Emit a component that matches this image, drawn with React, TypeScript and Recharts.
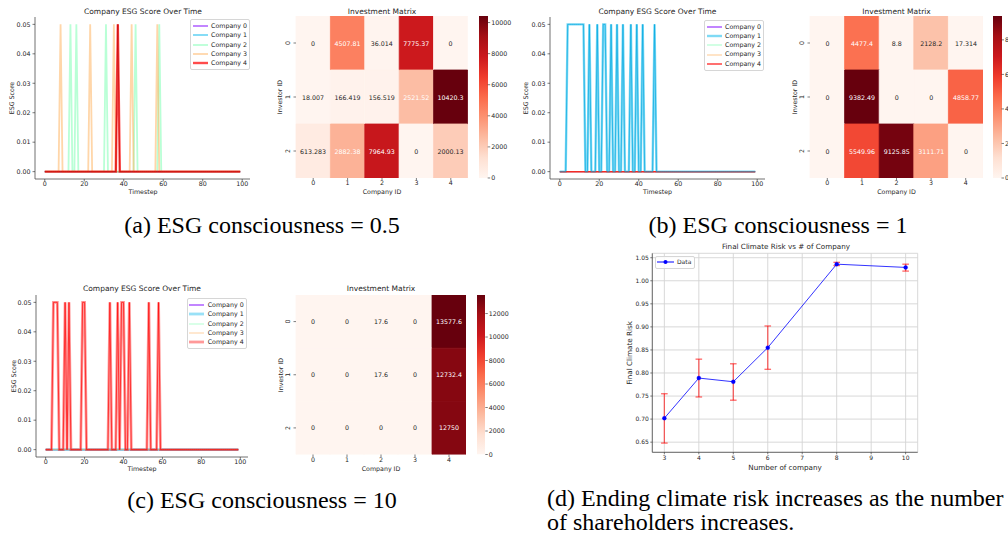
import React from 'react';
import {
  LineChart, Line,
  BarChart, Bar, Cell, LabelList,
  XAxis, YAxis, CartesianGrid, Legend, ErrorBar,
} from 'recharts';

const SANS = '"DejaVu Sans", Verdana, sans-serif';
const SERIF = '"Liberation Serif", "Times New Roman", serif';
const INK = '#262626';
const FRAME = '#4d4d4d';
const SMALL = 6.3;

// ---- panels (a)-(c): ESG score over time, each company is either 0 or at the peak
const TIMESTEPS = Array.from({ length: 100 }, (_, i) => i);
const ESG_PEAK = 0.05;
const COMPANY_NAMES = ['Company 0', 'Company 1', 'Company 2', 'Company 3', 'Company 4'];
const COMPANY_COLORS = ['#8000ff', '#00b5ec', '#80ffb4', '#ffb462', '#ff0000'];
const ESG_X_TICKS = [0, 20, 40, 60, 80, 100];
const ESG_Y_TICKS = [0, 0.01, 0.02, 0.03, 0.04, 0.05];

// timesteps where a company sits at the peak score
const A_COMPANY2_PEAKS = [13, 16, 31, 46, 58];
const A_COMPANY3_PEAKS = [8, 23, 35, 44, 57];
const A_COMPANY4_PEAKS = [37];
const B_COMPANY1_PEAKS = [4, 5, 6, 7, 8, 9, 10, 11, 12, 15, 19, 22, 23, 26, 29, 32, 36, 39, 42, 48];
const C_COMPANY4_PEAKS = [4, 5, 6, 10, 12, 19, 20, 33, 37, 39, 40, 43, 53, 58];

// ---- investment matrices (rows = investors, cols = companies)
const INVESTOR_IDS = ['0', '1', '2'];
const COMPANY_IDS = ['0', '1', '2', '3', '4'];
const MATRIX_A = [
  [0, 4507.81, 36.014, 7775.37, 0],
  [18.007, 166.419, 156.519, 2521.52, 10420.3],
  [613.283, 2882.38, 7964.93, 0, 2000.13],
];
const MATRIX_B = [
  [0, 4477.4, 8.8, 2128.2, 17.314],
  [0, 9382.49, 0, 0, 4858.77],
  [0, 5549.96, 9125.85, 3111.71, 0],
];
const MATRIX_C = [
  [0, 0, 17.6, 0, 13577.6],
  [0, 0, 17.6, 0, 12732.4],
  [0, 0, 0, 0, 12750],
];
const CBAR_TICKS_A = [0, 2000, 4000, 6000, 8000, 10000];
const CBAR_TICKS_B = [0, 2000, 4000, 6000, 8000];
const CBAR_TICKS_C = [0, 2000, 4000, 6000, 8000, 10000, 12000];

// ---- panel (d): final climate risk vs number of companies
const RISK_N = [3, 4, 5, 6, 8, 10];
const RISK_MEAN = [0.702, 0.789, 0.781, 0.855, 1.036, 1.029];
const RISK_LOW = [0.648, 0.748, 0.741, 0.808, 1.033, 1.021];
const RISK_HIGH = [0.755, 0.830, 0.820, 0.902, 1.040, 1.036];
const RISK_X_TICKS = [3, 4, 5, 6, 7, 8, 9, 10];
const RISK_Y_TICKS = [0.65, 0.7, 0.75, 0.8, 0.85, 0.9, 0.95, 1.0, 1.05];

// matplotlib "Reds"
const REDS = ['#fff5f0', '#fee0d2', '#fcbba1', '#fc9272', '#fb6a4a', '#ef3b2c', '#cb181d', '#a50f15', '#67000d'];
const hexRgb = (h: string) => [1, 3, 5].map((i) => parseInt(h.slice(i, i + 2), 16));
function reds(t: number) {
  const s = Math.min(Math.max(t, 0), 1) * (REDS.length - 1);
  const i = Math.min(Math.floor(s), REDS.length - 2);
  const f = s - i;
  const a = hexRgb(REDS[i]);
  const b = hexRgb(REDS[i + 1]);
  return `rgb(${a.map((v, k) => Math.round(v + (b[k] - v) * f)).join(',')})`;
}

const tickStyle = { fontSize: SMALL, fill: INK, fontFamily: SANS };

function Txt({ x, y, size = SMALL, rotate = 0, children }: any) {
  return (
    <div style={{
      position: 'absolute', left: x, top: y,
      transform: `translate(-50%, -50%) rotate(${rotate}deg)`,
      fontFamily: SANS, fontSize: size, color: INK,
      whiteSpace: 'nowrap', lineHeight: 1,
    }}>
      {children}
    </div>
  );
}

type LineStyle = { w: number; o: number; core?: string };

function EsgLegend({ styles }: { styles: LineStyle[] }) {
  return (
    <div style={{
      border: '0.8px solid #d6d6d6', borderRadius: 2, background: 'rgba(255,255,255,0.85)',
      padding: '1.5px 2.5px 1.5px 1.5px', fontFamily: SANS, fontSize: SMALL, color: INK,
    }}>
      {COMPANY_NAMES.map((name, i) => (
        <div key={name} style={{ display: 'flex', alignItems: 'center', height: 9.3 }}>
          <svg width={15} height={6} style={{ display: 'block' }}>
            <line x1={0} y1={3} x2={15} y2={3} stroke={COMPANY_COLORS[i]}
              strokeWidth={styles[i].w} strokeOpacity={styles[i].o} />
          </svg>
          <span style={{ marginLeft: 3.5, whiteSpace: 'nowrap', lineHeight: 1 }}>{name}</span>
        </div>
      ))}
    </div>
  );
}

function EsgChart({ left, top, plotW, peaks, styles, legendAt }: {
  left: number; top: number; plotW: number; peaks: number[][]; styles: LineStyle[]; legendAt: [number, number];
}) {
  const data = TIMESTEPS.map((t) => {
    const row: Record<string, number> = { t };
    peaks.forEach((p, i) => { row['c' + i] = p.includes(t) ? ESG_PEAK : 0; });
    return row;
  });
  const xDomain: [number, number] = [-4.95, 103.95];
  const yDomain: [number, number] = [-0.0025, 0.0525];
  const frame = { stroke: FRAME, strokeWidth: 0.8 };

  return (
    <div style={{ position: 'absolute', left, top }}>
      <LineChart width={35 + plotW + 2} height={200} data={data}
        margin={{ top: 17, right: 2, bottom: 0, left: 0 }}>
        <XAxis dataKey="t" type="number" domain={xDomain} ticks={ESG_X_TICKS} allowDataOverflow
          height={21} tick={tickStyle} tickSize={2.5} tickMargin={0.5}
          tickLine={{ stroke: INK, strokeWidth: 0.6 }} axisLine={frame} />
        <XAxis xAxisId="frame" orientation="top" dataKey="t" type="number" domain={xDomain}
          allowDataOverflow height={0} tick={false} tickLine={false} axisLine={frame} />
        <YAxis type="number" domain={yDomain} ticks={ESG_Y_TICKS} allowDataOverflow width={35}
          tick={tickStyle} tickFormatter={(v: number) => v.toFixed(2)} tickSize={2.5} tickMargin={2}
          tickLine={{ stroke: INK, strokeWidth: 0.6 }} axisLine={frame} />
        <YAxis yAxisId="frame" orientation="right" type="number" domain={yDomain} allowDataOverflow
          width={0} tick={false} tickLine={false} axisLine={frame} />
        {COMPANY_NAMES.map((name, i) => (
          <Line key={name} dataKey={'c' + i} name={name} type="linear"
            stroke={COMPANY_COLORS[i]} strokeWidth={styles[i].w} strokeOpacity={styles[i].o}
            dot={false} activeDot={false} isAnimationActive={false} />
        ))}
        {COMPANY_NAMES.map((name, i) => styles[i].core ? (
          <Line key={name + '-core'} dataKey={'c' + i} legendType="none" type="linear"
            stroke={styles[i].core} strokeWidth={0.8} strokeOpacity={0.85}
            dot={false} activeDot={false} isAnimationActive={false} />
        ) : null)}
        <Legend layout="vertical" align="center" verticalAlign="middle"
          wrapperStyle={{ left: legendAt[0], top: legendAt[1], width: 'auto' }}
          content={() => <EsgLegend styles={styles} />} />
      </LineChart>
    </div>
  );
}

function RotTick(props: any) {
  const { x, y, payload } = props;
  return (
    <g>
      <line x1={x + 3.5} y1={y} x2={x + 6} y2={y} stroke={INK} strokeWidth={0.6} />
      <text x={x} y={y} transform={`rotate(-90 ${x} ${y})`} textAnchor="middle"
        fontSize={SMALL} fontFamily={SANS} fill={INK}>
        {INVESTOR_IDS[Math.floor(payload.value)]}
      </text>
    </g>
  );
}

function Heatmap({ plotLeft, plotTop, plotW, plotH, matrix }: {
  plotLeft: number; plotTop: number; plotW: number; plotH: number; matrix: number[][];
}) {
  const vmax = Math.max(...matrix.flat());
  const data = COMPANY_IDS.map((id, c) => {
    const row: Record<string, any> = { company: id };
    INVESTOR_IDS.forEach((_, r) => { row['r' + r] = 1; row['v' + r] = matrix[r][c]; });
    return row;
  });
  const cellLabel = (p: any) => {
    const { x, y, width, height, value } = p;
    const light = Number(value) / vmax > 0.235;
    return (
      <text x={x + width / 2} y={y + height / 2} textAnchor="middle" dominantBaseline="central"
        fontSize={SMALL} fontFamily={SANS} fill={light ? '#ffffff' : INK}>
        {String(value)}
      </text>
    );
  };
  return (
    <div style={{ position: 'absolute', left: plotLeft - 26, top: plotTop - 16 }}>
      <BarChart width={26 + plotW} height={16 + plotH + 22} data={data}
        margin={{ top: 16, right: 0, bottom: 0, left: 0 }} barCategoryGap={0} barGap={0}>
        <XAxis dataKey="company" height={22} tick={tickStyle} tickSize={2.5} tickMargin={0.5}
          axisLine={false} tickLine={{ stroke: INK, strokeWidth: 0.6 }} />
        <YAxis type="number" domain={[0, INVESTOR_IDS.length]} reversed allowDataOverflow
          ticks={INVESTOR_IDS.map((_, i) => i + 0.5)} width={26} axisLine={false}
          tickSize={0} tickMargin={6} tickLine={false} tick={<RotTick />} />
        {INVESTOR_IDS.map((id, r) => (
          <Bar key={id} dataKey={'r' + r} stackId="m" isAnimationActive={false}>
            {data.map((row) => {
              const col = reds(row['v' + r] / vmax);
              return <Cell key={row.company} fill={col} stroke={col} strokeWidth={0.8} />;
            })}
            <LabelList dataKey={'v' + r} content={cellLabel} />
          </Bar>
        ))}
      </BarChart>
    </div>
  );
}

function Colorbar({ left, top, width, height, matrix, ticks, id }: {
  left: number; top: number; width: number; height: number; matrix: number[][]; ticks: number[]; id: string;
}) {
  const vmax = Math.max(...matrix.flat());
  return (
    <div style={{ position: 'absolute', left, top: top - 16 }}>
      <BarChart width={width + 34} height={16 + height + 22} data={[{ k: 'cb', v: vmax }]}
        margin={{ top: 16, right: 0, bottom: 22, left: 0 }} barCategoryGap={0}>
        <defs>
          <linearGradient id={id} x1="0" y1="0" x2="0" y2="1">
            {REDS.map((c, i) => (
              <stop key={c} offset={`${(i / (REDS.length - 1)) * 100}%`} stopColor={REDS[REDS.length - 1 - i]} />
            ))}
          </linearGradient>
        </defs>
        <XAxis dataKey="k" hide />
        <YAxis orientation="right" type="number" domain={[0, vmax]} ticks={ticks} allowDataOverflow
          width={34} tick={tickStyle} tickSize={2.5} tickMargin={1} axisLine={false}
          tickLine={{ stroke: INK, strokeWidth: 0.6 }} />
        <Bar dataKey="v" fill={`url(#${id})`} isAnimationActive={false} />
      </BarChart>
    </div>
  );
}

function RiskLegend() {
  return (
    <div style={{
      border: '0.8px solid #d6d6d6', borderRadius: 2, background: 'rgba(255,255,255,0.85)',
      padding: '1px 3px 1px 1px', display: 'flex', alignItems: 'center',
      fontFamily: SANS, fontSize: 6, color: INK, height: 8.5,
    }}>
      <svg width={17} height={6} style={{ display: 'block' }}>
        <line x1={0} y1={3} x2={17} y2={3} stroke="#0000ff" strokeWidth={1} />
        <circle cx={8.5} cy={3} r={2} fill="#0000ff" />
      </svg>
      <span style={{ marginLeft: 3, lineHeight: 1 }}>Data</span>
    </div>
  );
}

function RiskChart() {
  const data = RISK_N.map((n, i) => ({
    n, risk: RISK_MEAN[i], err: [RISK_MEAN[i] - RISK_LOW[i], RISK_HIGH[i] - RISK_MEAN[i]],
  }));
  const xDomain: [number, number] = [2.65, 10.35];
  const yDomain: [number, number] = [0.628, 1.0596];
  const frame = { stroke: FRAME, strokeWidth: 0.8 };
  const tick = { fontSize: 6, fill: INK, fontFamily: SANS };
  return (
    <div style={{ position: 'absolute', left: 620, top: 240 }}>
      <LineChart width={305} height={240} data={data}
        margin={{ top: 13.3, right: 7.3, bottom: 0, left: 0 }}>
        <CartesianGrid stroke="#d4d4d4" strokeWidth={0.9} />
        <XAxis dataKey="n" type="number" domain={xDomain} ticks={RISK_X_TICKS} allowDataOverflow
          height={27.7} tick={tick} tickSize={2} tickMargin={1.5}
          tickLine={{ stroke: INK, strokeWidth: 0.6 }} axisLine={frame} />
        <XAxis xAxisId="frame" orientation="top" dataKey="n" type="number" domain={xDomain}
          allowDataOverflow height={0} tick={false} tickLine={false} axisLine={frame} />
        <YAxis type="number" domain={yDomain} ticks={RISK_Y_TICKS} allowDataOverflow width={32.3}
          tick={tick} tickFormatter={(v: number) => v.toFixed(2)} tickSize={2} tickMargin={1.5}
          tickLine={{ stroke: INK, strokeWidth: 0.6 }} axisLine={frame} />
        <YAxis yAxisId="frame" orientation="right" type="number" domain={yDomain} allowDataOverflow
          width={0} tick={false} tickLine={false} axisLine={frame} />
        <Line dataKey="risk" name="Data" type="linear" stroke="#0000ff" strokeOpacity={0.8}
          strokeWidth={1} dot={{ r: 2, fill: '#0000ff', stroke: '#0000ff', strokeWidth: 0.4 }}
          activeDot={false} isAnimationActive={false}>
          <ErrorBar dataKey="err" direction="y" width={3.3} stroke="#ff0000"
            strokeOpacity={0.6} strokeWidth={1.3} isAnimationActive={false} />
        </Line>
        <Legend layout="vertical" align="center" verticalAlign="middle"
          wrapperStyle={{ left: 35, top: 16, width: 'auto' }} content={() => <RiskLegend />} />
      </LineChart>
    </div>
  );
}

const STYLE_A: LineStyle[] = [
  { w: 1.2, o: 0.8 }, { w: 1.2, o: 0.8 }, { w: 1.8, o: 0.55 }, { w: 1.8, o: 0.55 },
  { w: 2.4, o: 0.7, core: '#c00000' },
];
const STYLE_B: LineStyle[] = [
  { w: 1.2, o: 0.8 }, { w: 2.4, o: 0.5, core: '#00a8e0' }, { w: 1.2, o: 0.6 }, { w: 1.2, o: 0.6 },
  { w: 1.5, o: 0.75 },
];
const STYLE_C: LineStyle[] = [
  { w: 1.2, o: 0.8 }, { w: 2.8, o: 0.4 }, { w: 1.2, o: 0.5 }, { w: 1.2, o: 0.5 },
  { w: 2.8, o: 0.4, core: '#ff0000' },
];

function Caption({ x, y, children }: any) {
  return (
    <div style={{
      position: 'absolute', left: x, top: y, transform: 'translate(-50%, -50%)',
      fontFamily: SERIF, fontSize: 24, color: '#000', whiteSpace: 'nowrap', lineHeight: 1,
    }}>
      {children}
    </div>
  );
}

export default function App() {
  return (
    <div style={{
      position: 'fixed', left: 0, top: 0, width: 1008, height: 540,
      overflow: 'hidden', background: '#ffffff',
    }}>
      {/* (a) */}
      <EsgChart left={0} top={0} plotW={215} styles={STYLE_A} legendAt={[190, 19]}
        peaks={[[], [], A_COMPANY2_PEAKS, A_COMPANY3_PEAKS, A_COMPANY4_PEAKS]} />
      <Txt x={143} y={11.5} size={7.5}>Company ESG Score Over Time</Txt>
      <Txt x={12.3} y={98} rotate={-90}>ESG Score</Txt>
      <Txt x={143} y={192.3}>Timestep</Txt>
      <Heatmap plotLeft={296} plotTop={16} plotW={172} plotH={162} matrix={MATRIX_A} />
      <Colorbar left={479} top={16} width={8.7} height={162} matrix={MATRIX_A} ticks={CBAR_TICKS_A} id="cbA" />
      <Txt x={382} y={11.7} size={7.5}>Investment Matrix</Txt>
      <Txt x={280} y={97} rotate={-90}>Investor ID</Txt>
      <Txt x={382} y={192.3}>Company ID</Txt>
      <Caption x={262} y={225}>(a) ESG consciousness = 0.5</Caption>

      {/* (b) */}
      <EsgChart left={515} top={0} plotW={215} styles={STYLE_B} legendAt={[189, 19.5]}
        peaks={[[], B_COMPANY1_PEAKS, [], [], []]} />
      <Txt x={657.5} y={11.7} size={7.5}>Company ESG Score Over Time</Txt>
      <Txt x={525.7} y={98} rotate={-90}>ESG Score</Txt>
      <Txt x={657.5} y={192.3}>Timestep</Txt>
      <Heatmap plotLeft={810} plotTop={16} plotW={173} plotH={162} matrix={MATRIX_B} />
      <Colorbar left={993.3} top={16} width={8.5} height={162} matrix={MATRIX_B} ticks={CBAR_TICKS_B} id="cbB" />
      <Txt x={896.5} y={11.7} size={7.5}>Investment Matrix</Txt>
      <Txt x={795} y={97} rotate={-90}>Investor ID</Txt>
      <Txt x={896.5} y={192.3}>Company ID</Txt>
      <Caption x={778} y={225}>(b) ESG consciousness = 1</Caption>

      {/* (c) */}
      <EsgChart left={1} top={278} plotW={212} styles={STYLE_C} legendAt={[185.7, 20]}
        peaks={[[], [], [], [], C_COMPANY4_PEAKS]} />
      <Txt x={142} y={289.3} size={7.5}>Company ESG Score Over Time</Txt>
      <Txt x={14} y={376} rotate={-90}>ESG Score</Txt>
      <Txt x={142} y={469.3}>Timestep</Txt>
      <Heatmap plotLeft={296} plotTop={295} plotW={170} plotH={159.5} matrix={MATRIX_C} />
      <Colorbar left={476.7} top={295} width={8.3} height={159.5} matrix={MATRIX_C} ticks={CBAR_TICKS_C} id="cbC" />
      <Txt x={381} y={289.3} size={7.5}>Investment Matrix</Txt>
      <Txt x={281} y={375} rotate={-90}>Investor ID</Txt>
      <Txt x={381} y={469.3}>Company ID</Txt>
      <Caption x={262} y={500}>(c) ESG consciousness = 10</Caption>

      {/* (d) */}
      <RiskChart />
      <Txt x={786} y={246.7} size={7.2}>Final Climate Risk vs # of Company</Txt>
      <Txt x={630} y={352.8} size={7.2} rotate={-90}>Final Climate Risk</Txt>
      <Txt x={785} y={467.7} size={7.2}>Number of company</Txt>
      <div style={{
        position: 'absolute', left: 547, top: 486, fontFamily: SERIF, fontSize: 24,
        lineHeight: '24px', color: '#000', whiteSpace: 'nowrap',
      }}>
        (d) Ending climate risk increases as the number<br />of shareholders increases.
      </div>
    </div>
  );
}
